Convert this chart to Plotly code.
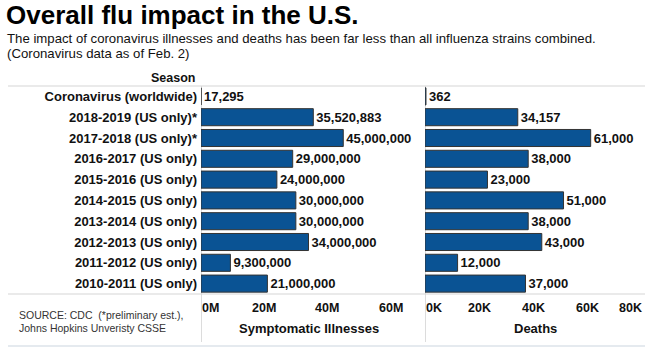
import plotly.graph_objects as go

seasons = [
    "Coronavirus (worldwide)",
    "2018-2019 (US only)*",
    "2017-2018 (US only)*",
    "2016-2017 (US only)",
    "2015-2016 (US only)",
    "2014-2015 (US only)",
    "2013-2014 (US only)",
    "2012-2013 (US only)",
    "2011-2012 (US only)",
    "2010-2011 (US only)",
]
illnesses = [17295, 35520883, 45000000, 29000000, 24000000, 30000000,
             30000000, 34000000, 9300000, 21000000]
deaths = [362, 34157, 61000, 38000, 23000, 51000, 38000, 43000, 12000, 37000]

ill_ticks = [0, 20e6, 40e6, 60e6]
ill_tick_text = ["0M", "20M", "40M", "60M"]
death_ticks = [0, 20000, 40000, 60000, 80000]
death_tick_text = ["0K", "20K", "40K", "60K", "80K"]

W, H = 650, 347
FONT = "Liberation Sans, Arial, sans-serif"
BAR = "#0a5394"
EDGE = "#333333"


def px(x):
    return x / W


def py(y):
    return 1 - y / H


fig = go.Figure()
for vals, xa, ya in [(illnesses, "x", "y"), (deaths, "x2", "y2")]:
    fig.add_trace(go.Bar(
        y=seasons, x=vals, orientation="h", xaxis=xa, yaxis=ya,
        text=[f"{v:,}" for v in vals], textposition="outside",
        cliponaxis=False, constraintext="none",
        textfont=dict(family=FONT, size=13, color="#111", weight="bold"),
        marker=dict(color=BAR, line=dict(color=EDGE, width=1)),
        showlegend=False, hoverinfo="skip",
    ))

ydom = [py(294), py(86)]
fig.update_layout(
    width=W, height=H, margin=dict(l=0, r=0, t=0, b=0),
    paper_bgcolor="white", plot_bgcolor="white",
    bargap=0.18,
    font=dict(family=FONT, color="#111"),
    xaxis=dict(domain=[px(201), px(416)], range=[0, 68e6], showticklabels=False,
               showgrid=False, zeroline=False, showline=False),
    xaxis2=dict(domain=[px(425), px(645)], range=[0, 81000], showticklabels=False,
                showgrid=False, zeroline=False, showline=False, anchor="y2"),
    yaxis=dict(domain=ydom, anchor="x", categoryorder="array", categoryarray=seasons,
               autorange="reversed", showgrid=False, zeroline=False, ticks="",
               ticklabelstandoff=3,
               tickfont=dict(family=FONT, size=13, color="#111", weight="bold")),
    yaxis2=dict(domain=ydom, anchor="x2", matches="y", showticklabels=False,
                showgrid=False, zeroline=False, ticks=""),
)

shapes = []
# horizontal separators
for yy, col in [(86, "#e3e3e3"), (294, "#e3e3e3"), (346, "#dde3ea")]:
    shapes.append(dict(type="line", xref="paper", yref="paper",
                       x0=px(8), x1=px(645), y0=py(yy), y1=py(yy),
                       line=dict(color=col, width=1.5), layer="below"))
# zero lines extending down through axis area
for xr in ["x", "x2"]:
    shapes.append(dict(type="line", xref=xr, yref="paper", x0=0, x1=0,
                       y0=py(342), y1=py(86),
                       line=dict(color="#d0d0d0", width=1.5), layer="below"))
fig.update_layout(shapes=shapes)

ann = []
ann.append(dict(text="<b>Overall flu impact in the U.S.</b>", xref="paper", yref="paper",
                x=px(4), y=py(15), xanchor="left", yanchor="middle", showarrow=False,
                font=dict(family=FONT, size=26, color="#000")))
ann.append(dict(text="The impact of coronavirus illnesses and deaths has been far less than all influenza strains combined.",
                xref="paper", yref="paper", x=px(5), y=py(38), xanchor="left",
                yanchor="middle", showarrow=False, font=dict(family=FONT, size=13.2, color="#111")))
ann.append(dict(text="(Coronavirus data as of Feb. 2)",
                xref="paper", yref="paper", x=px(5), y=py(53), xanchor="left",
                yanchor="middle", showarrow=False, font=dict(family=FONT, size=13.2, color="#111")))
ann.append(dict(text="<b>Season</b>", xref="paper", yref="paper", x=px(197), y=py(78),
                xanchor="right", yanchor="middle", showarrow=False,
                font=dict(family=FONT, size=12.5, color="#111")))
ann.append(dict(text="SOURCE: CDC \u00a0(*preliminary est.),", xref="paper", yref="paper",
                x=px(17), y=py(315), xanchor="left", yanchor="middle", showarrow=False,
                font=dict(family=FONT, size=10.5, color="#333")))
ann.append(dict(text="Johns Hopkins Unveristy CSSE", xref="paper", yref="paper",
                x=px(17), y=py(328), xanchor="left", yanchor="middle", showarrow=False,
                font=dict(family=FONT, size=10.5, color="#333")))
for xr, ticks, texts, title in [("x", ill_ticks, ill_tick_text, "Symptomatic Illnesses"),
                                ("x2", death_ticks, death_tick_text, "Deaths")]:
    n = len(ticks)
    for i, (t, s) in enumerate(zip(ticks, texts)):
        anchor = "left" if i == 0 else ("right" if (xr == "x2" and i == n - 1) else "center")
        shift = -1 if anchor == "left" else (2 if anchor == "right" else 0)
        ann.append(dict(text=f"<b>{s}</b>", xref=xr, yref="paper", x=t, y=py(308),
                        xanchor=anchor, xshift=shift, yanchor="middle", showarrow=False,
                        font=dict(family=FONT, size=12.5, color="#111")))
    ann.append(dict(text=f"<b>{title}</b>", xref=f"{xr} domain", yref="paper", x=0.5,
                    y=py(328), xanchor="center", yanchor="middle", showarrow=False,
                    font=dict(family=FONT, size=13, color="#111")))
fig.update_layout(annotations=ann)

fig.write_html("out.html")
